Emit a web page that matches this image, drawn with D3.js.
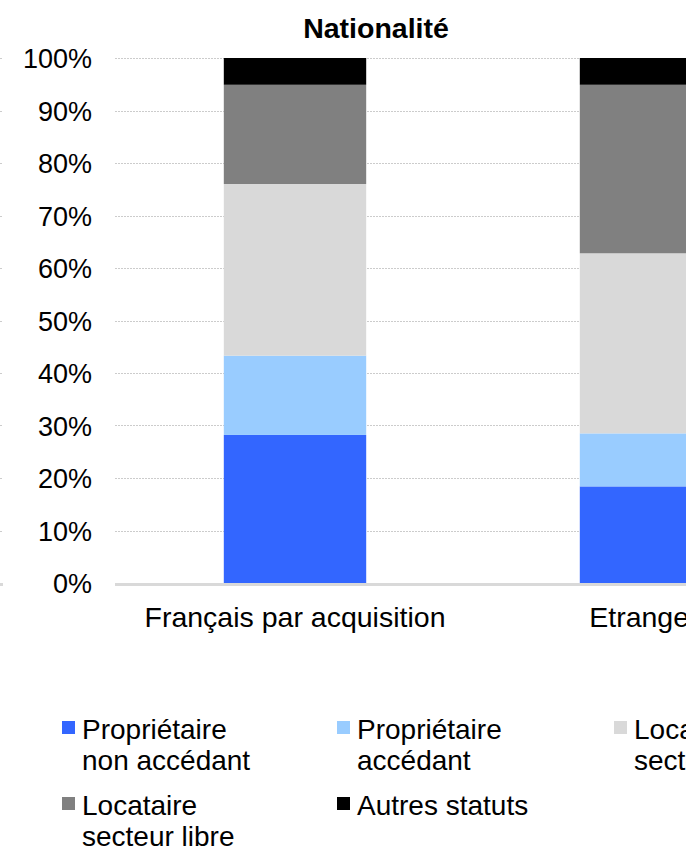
<!DOCTYPE html>
<html>
<head>
<meta charset="utf-8">
<script src="https://cdn.jsdelivr.net/npm/d3@7"></script>
<style>
  body { margin: 0; overflow: hidden; background: #fff; }
  text { font-family: Arial, "Liberation Sans", sans-serif; fill: #000; }
  .grid line { stroke: #cccccc; stroke-dasharray: 2,1; shape-rendering: crispEdges; }
</style>
</head>
<body>
<script>
// chart data
const categories = ["Français par acquisition", "Etrangers"];
const statuts = ["Propriétaire non accédant", "Propriétaire accédant", "Locataire secteur social", "Locataire secteur libre", "Autres statuts"];
const legendLines = [["Propriétaire", "non accédant"], ["Propriétaire", "accédant"], ["Locataire", "secteur social"], ["Locataire", "secteur libre"], ["Autres statuts"]];
const francaisValues = [28.2, 15.1, 32.7, 18.9, 5.1];
const etrangersValues = [18.4, 10.1, 34.3, 32.1, 5.1];
const colors = ["#3366ff", "#99ccff", "#d9d9d9", "#808080", "#000000"];
const yTicks = [0, 10, 20, 30, 40, 50, 60, 70, 80, 90, 100];

const width = 900, height = 858;
const svg = d3.select("body").append("svg")
    .attr("width", width)
    .attr("height", height);

const rows = categories.map((c, i) => {
  const r = {cat: c};
  const vals = i === 0 ? francaisValues : etrangersValues;
  statuts.forEach((s, j) => r[s] = vals[j]);
  return r;
});
const series = d3.stack().keys(statuts)(rows);

const x = d3.scaleBand()
    .domain(categories)
    .range([117, 829])
    .paddingInner(0.6)
    .paddingOuter(0.3);

const y = d3.scaleLinear()
    .domain([0, 100])
    .range([583, 58]);

// gridlines
const grid = svg.append("g").attr("class", "grid");
grid.selectAll("line.main")
  .data(yTicks.filter(d => d > 0))
  .join("line")
    .attr("class", "main")
    .attr("x1", 115).attr("x2", width)
    .attr("y1", d => Math.round(y(d)) + 0.5)
    .attr("y2", d => Math.round(y(d)) + 0.5);
// stubs left over from the neighbouring panel
grid.selectAll("line.stub")
  .data(yTicks.filter(d => d > 0))
  .join("line")
    .attr("class", "stub")
    .attr("x1", 0).attr("x2", 3)
    .attr("y1", d => Math.round(y(d)) + 0.5)
    .attr("y2", d => Math.round(y(d)) + 0.5);

// bars
svg.append("g")
  .selectAll("g")
  .data(series)
  .join("g")
    .attr("fill", (d, i) => colors[i])
  .selectAll("rect")
  .data(d => d)
  .join("rect")
    .attr("x", d => x(d.data.cat))
    .attr("width", x.bandwidth())
    .attr("y", d => y(d[1]))
    .attr("height", d => y(d[0]) - y(d[1]));

// base axis line
svg.append("line")
    .attr("x1", 115).attr("x2", width)
    .attr("y1", y(0) + 1.5).attr("y2", y(0) + 1.5)
    .attr("stroke", "#d9d9d9")
    .attr("stroke-width", 3);
svg.append("line")
    .attr("x1", 0).attr("x2", 3)
    .attr("y1", y(0) + 1.5).attr("y2", y(0) + 1.5)
    .attr("stroke", "#d9d9d9")
    .attr("stroke-width", 3);

// y labels
svg.append("g")
  .selectAll("text")
  .data(yTicks)
  .join("text")
    .attr("x", 92)
    .attr("y", d => y(d) + 10)
    .attr("text-anchor", "end")
    .style("font-size", "27px")
    .text(d => d + "%");

// x labels
svg.append("g")
  .selectAll("text")
  .data(categories)
  .join("text")
    .attr("x", d => x(d) + x.bandwidth() / 2)
    .attr("y", 627)
    .attr("text-anchor", "middle")
    .style("font-size", "28.5px")
    .text(d => d);

// title
svg.append("text")
    .attr("x", 376)
    .attr("y", 38)
    .attr("text-anchor", "middle")
    .style("font-size", "28.5px")
    .style("font-weight", "bold")
    .text("Nationalité");

// legend
const legendX = [62, 337, 614];
const legendY = [721, 797];
const legend = svg.append("g")
  .selectAll("g")
  .data(legendLines)
  .join("g")
    .attr("transform", (d, i) => `translate(${legendX[i % 3]},${legendY[Math.floor(i / 3)]})`);

legend.append("rect")
    .attr("width", 13)
    .attr("height", 13)
    .attr("fill", (d, i) => colors[i]);

legend.append("text")
    .attr("x", 20)
    .attr("y", 18)
    .style("font-size", "28px")
  .selectAll("tspan")
  .data(d => d)
  .join("tspan")
    .attr("x", 20)
    .attr("dy", (d, i) => i === 0 ? 0 : 31)
    .text(d => d);
</script>
</body>
</html>
